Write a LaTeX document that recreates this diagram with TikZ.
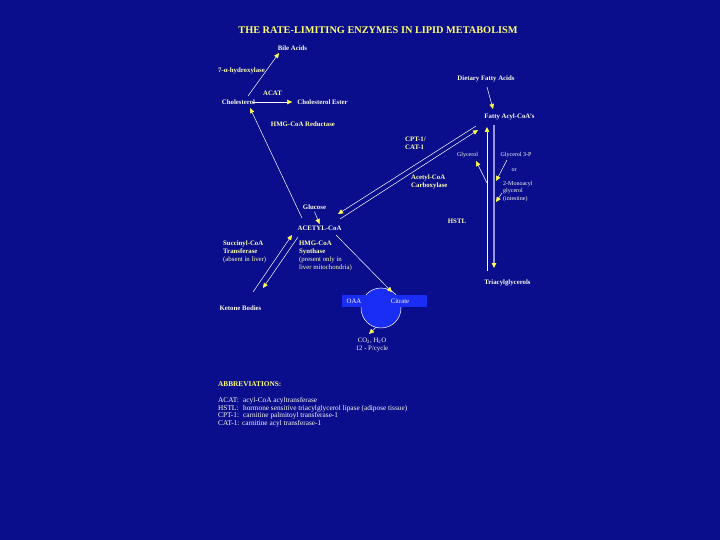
\documentclass[tikz,border=0pt]{standalone}
\usepackage{fontspec}
\setmainfont{Liberation Serif}
\usetikzlibrary{arrows.meta}
\definecolor{bg}{RGB}{10,14,140}
\definecolor{cyc}{RGB}{25,45,245}
\definecolor{titley}{RGB}{255,255,110}
\definecolor{enz}{RGB}{255,255,175}
\definecolor{met}{RGB}{250,250,235}
\definecolor{tipy}{RGB}{255,255,80}
\definecolor{lav}{RGB}{150,150,225}
\begin{document}
\begin{tikzpicture}[x=1pt,y=-1pt,
  lbl/.style={inner sep=0pt, font=\fontsize{6.8}{8}\selectfont\bfseries, text=met},
  enzl/.style={inner sep=0pt, font=\fontsize{6.8}{8}\selectfont\bfseries, text=enz, align=left},
  small/.style={inner sep=0pt, font=\fontsize{6}{7.5}\selectfont, text=met, align=left},
  reg/.style={inner sep=0pt, font=\fontsize{6.8}{8}\selectfont, text=met},
  conn/.style={draw=white, line width=0.5pt},
  arr/.style={conn, -{Triangle[length=5pt,width=4.5pt,color=tipy]}},
  lavline/.style={draw=lav, line width=1.8pt, -{Triangle[length=5pt,width=4.5pt,color=tipy]}}
]
\fill[bg] (0,0) rectangle (720,540);
\useasboundingbox (0,0) rectangle (720,540);

% TCA cycle
\node[circle, fill=cyc, draw=white, line width=0.5pt, minimum size=40pt, inner sep=0pt] (tca) at (381,308) {};
\node[fill=cyc, minimum width=85pt, minimum height=12pt, inner sep=0pt] (band) at (384.5,301) {};

% title
\node[inner sep=0pt, font=\fontsize{10.3}{12}\selectfont\bfseries, text=titley] (title) at (378,30)
  {THE RATE-LIMITING ENZYMES IN LIPID METABOLISM};

% labels
\node[lbl] (bile) at (292.5,48) {Bile Acids};
\node[enzl] (hydrox) at (241.5,71) {7-α-hydroxylase};
\node[enzl] (acat) at (272.5,93) {ACAT};
\node[lbl] (chol) at (238.5,102) {Cholesterol};
\node[lbl] (cholest) at (322.5,102) {Cholesterol Ester};
\node[enzl] (hmgr) at (303,124) {HMG-CoA Reductase};
\node[lbl] (diet) at (486,79) {Dietary Fatty Acids};
\node[lbl] (fac) at (509.5,117) {Fatty Acyl-CoA's};
\node[enzl, anchor=west] (cpt) at (405,143) {CPT-1/\\CAT-1};
\node[enzl, anchor=west] (acc) at (411,181.5) {Acetyl-CoA\\Carboxylase};
\node[small] (glyc) at (467.5,155) {Glycerol};
\node[small] (g3p) at (516,155) {Glycerol 3-P};
\node[small] (or) at (514,170) {or};
\node[small, anchor=west] (mono) at (503,191.5) {2-Monoacyl\\glycerol\\(intestine)};
\node[enzl] (hstl) at (457,221) {HSTL};
\node[lbl] (tag) at (507.5,283) {Triacylglycerols};
\node[lbl] (glucose) at (314.5,207) {Glucose};
\node[lbl] (acetyl) at (319.5,228) {ACETYL-CoA};
\node[enzl, anchor=west] (succ) at (223,252) {Succinyl-CoA\\Transferase\\{\mdseries (absent in liver)}};
\node[enzl, anchor=west] (hmgs) at (299,256) {HMG-CoA\\Synthase\\{\mdseries (present only in}\\{\mdseries liver mitochondria)}};
\node[lbl] (ketone) at (240.5,308) {Ketone Bodies};
\node[reg] (oaa) at (354,301) {OAA};
\node[reg] (citrate) at (400,301) {Citrate};
\node[reg, align=center] (co2) at (372,345) {CO\textsubscript{2}, H\textsubscript{2}O\\12 - P/cycle};

% abbreviations
\node[inner sep=0pt, anchor=west, font=\fontsize{7.3}{8}\selectfont\bfseries, text=titley] (abbr) at (218,384) {ABBREVIATIONS:};
\node[inner sep=0pt, anchor=north west, align=left, font=\fontsize{7.3}{7.7}\selectfont, text=met] (abbrlist) at (218,397)
  {\makebox[25pt][l]{ACAT:}acyl-CoA acyltransferase\\
   \makebox[25pt][l]{HSTL:}hormone sensitive triacylglycerol lipase (adipose tissue)\\
   \makebox[25pt][l]{CPT-1:}carnitine palmitoyl transferase-1\\
   \makebox[24pt][l]{CAT-1:}carnitine acyl transferase-1};

% connector end points
\coordinate (cholOut) at (248,96);
\coordinate (bileIn) at (279,53);
\coordinate (acCholOut) at (302,218);
\coordinate (cholIn) at (250,108);
\coordinate (dietOut) at (487,87);
\coordinate (facIn) at (493,109);
\coordinate (acFaA) at (338,214);
\coordinate (faAcA) at (476,126);
\coordinate (acFaB) at (340,219);
\coordinate (faAcB) at (478,130);
\coordinate (ketUp) at (253,292);
\coordinate (acKetIn) at (292,235);
\coordinate (acKetOut) at (298,237);
\coordinate (ketIn) at (263,288);
\coordinate (acCit) at (336,235);
\coordinate (citIn) at (392,292);
\coordinate (co2In) at (369,334);
\coordinate (tagUp) at (487,271);
\coordinate (facUp) at (487,127);
\coordinate (facDown) at (494,125);
\coordinate (tagIn) at (494,268);
\coordinate (glycOut) at (487,183);
\coordinate (glycIn) at (476,161);
\coordinate (gpOut) at (507,160);
\coordinate (gpIn) at (496,181);
\coordinate (monoOut) at (502,193);
\coordinate (monoIn) at (496,202);

% connectors
\draw[arr] (cholOut) -- (bileIn);
\draw[arr] ([xshift=-2pt]chol.east) -- ([xshift=-5pt]cholest.west);
\draw[arr] (acCholOut) -- (cholIn);
\draw[arr] (dietOut) -- (facIn);
\draw[arr] (faAcA) -- (acFaA);
\draw[arr] (acFaB) -- (faAcB);
\draw[arr] ([yshift=-2pt]glucose.south) -- ([yshift=1.5pt]acetyl.north);
\draw[arr] (ketUp) -- (acKetIn);
\draw[arr] (acKetOut) -- (ketIn);
\draw[arr] (acCit) -- (citIn);
\draw[arr] (tca.255) -- (co2In);
\draw[arr] (tagUp) -- (facUp);
\draw[lavline] (facDown) -- (tagIn);
\draw[arr] (glycOut) -- (glycIn);
\draw[arr] (gpOut) -- (gpIn);
\draw[arr] (monoOut) -- (monoIn);
\end{tikzpicture}
\end{document}
